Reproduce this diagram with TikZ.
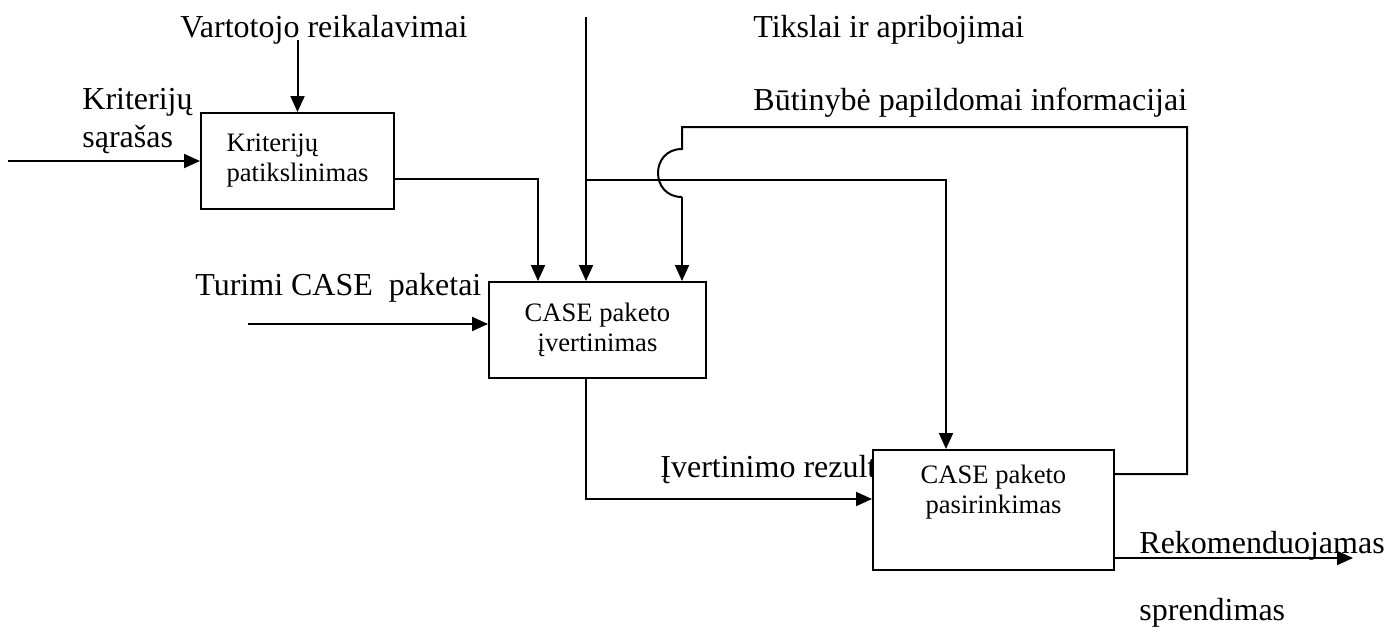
\documentclass[tikz,border=0pt]{standalone}
\usepackage{fontspec}
\setmainfont{Liberation Serif}
\usetikzlibrary{positioning, arrows.meta}

\begin{document}
\begin{tikzpicture}[x=0.5pt, y=-0.5pt,
        blokas/.style={draw, line width=1pt, fill=white, inner sep=0pt},
        dtekstas/.style={font=\fontsize{13.3}{15}\selectfont, align=center, inner sep=0pt},
        uzrasas/.style={font=\fontsize{16}{19}\selectfont, anchor=base west, inner sep=0pt},
        strele/.style={line width=1pt, -{Triangle[length=8pt, width=7pt]}},
        linija/.style={line width=1pt}]
        \useasboundingbox (0,0) rectangle (1386,632);

        \node[uzrasas] (vart) at (180,37) {Vartotojo reikalavimai};
        \node[uzrasas] (tiks) at (753,37) {Tikslai ir apribojimai};
        \node[uzrasas] (butin) at (753,110) {Būtinybė papildomai informacijai};
        \node[uzrasas] (krit) at (82,109) {Kriterijų};
        \node[uzrasas] (sar) at (82,147) {sąrašas};
        \node[uzrasas] (turimi) at (195,295) {Turimi CASE~ paketai};
        \node[uzrasas] (ivert) at (660,477) {Įvertinimo rezult};
        \node[uzrasas] (rekom) at (1139,553) {Rekomenduojamas};
        \node[uzrasas] (sprend) at (1139,620) {sprendimas};

        \node[blokas, dtekstas, align=left, minimum width=96.5pt, minimum height=48pt] (kriter) at (297.5,161) {Kriterijų\\patikslinimas};
        \node[blokas, dtekstas, minimum width=108.5pt, minimum height=48pt] (vertin) at (597.5,330) {CASE paketo\\įvertinimas};
        \node[blokas, minimum width=120.5pt, minimum height=60pt] (pasir) at (993.5,510) {};
        \node[dtekstas] (pasirt) at (993.5,492) {CASE paketo\\pasirinkimas};

        \coordinate (in1) at (8,161);
        \coordinate (in2) at (248,324);
        \coordinate (vartin) at (297.5,40);
        \coordinate (tiksin) at (586,17);
        \coordinate (sak) at (586,180);
        \coordinate (ats) at (1187,127);
        \coordinate (lank1) at (682,149);
        \coordinate (lank2) at (682,197);
        \coordinate (isej) at (1353,558);

        \draw[strele] (in1) -- (kriter.west);
        \draw[strele] (vartin) -- (kriter.north);
        \draw[strele] ([yshift=-9pt]kriter.east) -| ([xshift=-29.75pt]vertin.north);
        \draw[strele] (tiksin) -- (tiksin |- vertin.north);
        \draw[strele] (sak) -| ([xshift=-23.75pt]pasir.north);
        \draw[strele] (in2) -- (in2 -| vertin.west);
        \draw[strele] ([xshift=-5.75pt]vertin.south) |- ([yshift=5.5pt]pasir.west);
        \draw[linija] ([yshift=18pt]pasir.east) -| (ats) -| (lank1)
            .. controls (650,149) and (650,197) .. (lank2);
        \draw[strele] (lank2) -- ([xshift=42.25pt]vertin.north);
        \draw[strele] ([yshift=-24pt]pasir.east) -- (isej);
    \end{tikzpicture}
\end{document}
